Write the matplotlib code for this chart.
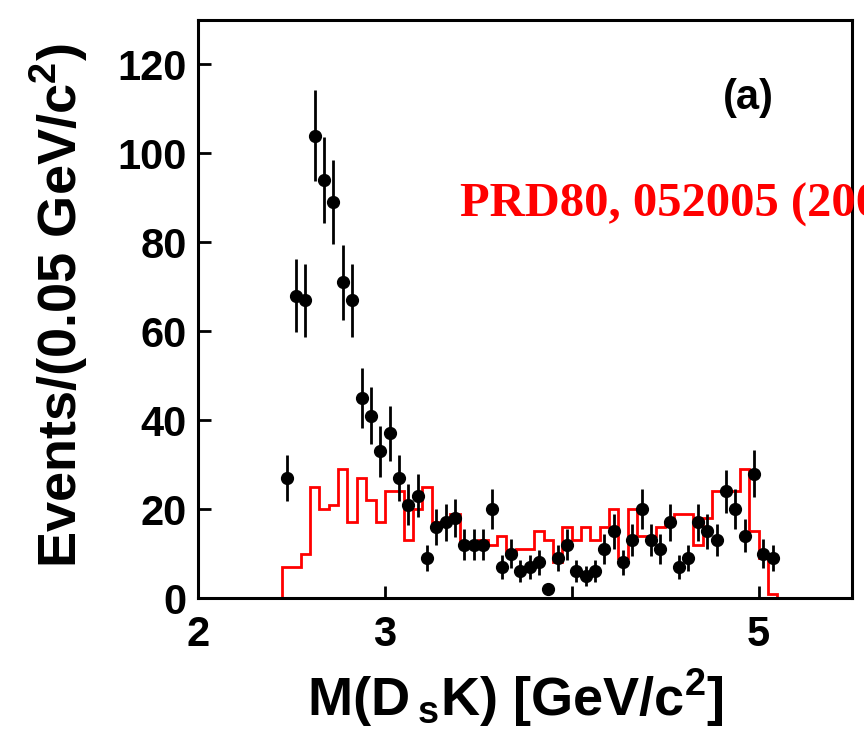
import numpy as np
import matplotlib
matplotlib.use("Agg")
import matplotlib.pyplot as plt

# histogram binning (GeV/c^2)
bin_lo, bin_hi, bin_w = 2.0, 5.5, 0.05

# data points: bin centres from 2.475 to 5.075
data_counts = [27, 68, 67, 104, 94, 89, 71, 67, 45, 41,
               33, 37, 27, 21, 23, 9, 16, 17, 18, 12,
               12, 12, 20, 7, 10, 6, 7, 8, 2, 9,
               12, 6, 5, 6, 11, 15, 8, 13, 20, 13,
               11, 17, 7, 9, 17, 15, 13, 24, 20, 14,
               28, 10, 9]
data_first_centre = 2.475

# red MC histogram, one value per 0.05 bin from 2.0 to 5.5
mc_counts = [0, 0, 0, 0, 0, 0, 0, 0, 0,
             7, 7, 10, 25, 20, 21, 29, 17, 27, 22,
             17, 24, 24, 13, 20, 25, 17, 17, 19, 12,
             12, 13, 12, 14, 10, 11, 11, 15, 13, 8,
             16, 13, 16, 13, 16, 20, 9, 20, 14, 14,
             16, 17, 19, 19, 12, 18, 24, 24, 24, 29,
             15, 9, 1,
             0, 0, 0, 0, 0, 0, 0, 0]

x_ticks = [2, 3, 4, 5]
x_tick_labels = ["2", "3", "", "5"]
y_ticks = [0, 20, 40, 60, 80, 100, 120]

plt.rcParams["font.family"] = "Liberation Sans"
plt.rcParams["font.weight"] = "bold"
plt.rcParams["mathtext.fontset"] = "custom"
plt.rcParams["mathtext.rm"] = "Liberation Sans:bold"
plt.rcParams["mathtext.it"] = "Liberation Sans:bold"
plt.rcParams["mathtext.bf"] = "Liberation Sans:bold"

fig = plt.figure(figsize=(8.64, 7.55), dpi=100)
ax = fig.add_axes([198 / 864, 1 - 598 / 755, 654 / 864, 578 / 755])

edges = np.linspace(bin_lo, bin_hi, len(mc_counts) + 1)
ax.stairs(mc_counts, edges, color="red", lw=2.0, zorder=2)

counts = np.array(data_counts, dtype=float)
centres = data_first_centre + bin_w * np.arange(len(counts))
ax.errorbar(centres, counts, yerr=np.sqrt(counts), fmt="o", color="black",
            ms=8.5, elinewidth=2.0, capsize=0, zorder=3)

ax.set_xlim(bin_lo, bin_hi)
ax.set_ylim(0, 130)
ax.set_xticks(x_ticks)
ax.set_xticklabels(x_tick_labels)
ax.set_yticks(y_ticks)
ax.tick_params(direction="in", length=9, width=2.0, labelsize=30, pad=8)
ax.tick_params(axis="x", pad=12)
for sp in ax.spines.values():
    sp.set_linewidth(2.2)

ax.set_ylabel(r"Events/(0.05 GeV/c$^{2}$)", fontsize=39, fontweight="bold")
ax.yaxis.set_label_coords(-0.165, 0.505)
ax.set_xlabel(r"M(D$\,_{s}$K) [GeV/c$^{2}$]", fontsize=39, fontweight="bold")
ax.xaxis.set_label_coords(0.485, -0.12)

fig.text(748 / 864, 1 - 98 / 755, "(a)", ha="center", va="center",
         fontsize=30, fontweight="bold")
fig.text(460 / 864, 1 - 217 / 755, "PRD80, 052005 (2009)", color="red",
         fontsize=35, fontweight="bold", fontfamily="Liberation Serif",
         va="baseline", ha="left")

fig.savefig("out.png", dpi=100)
